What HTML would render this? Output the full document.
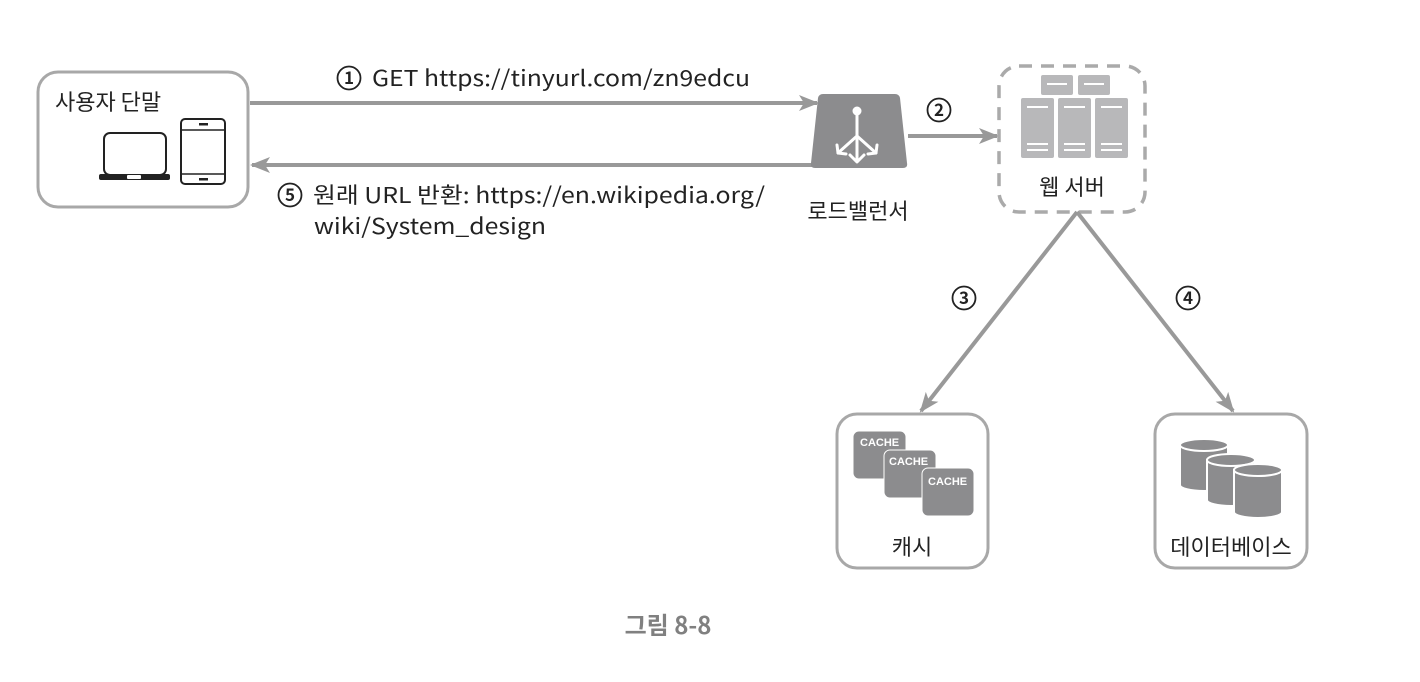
<!DOCTYPE html>
<html><head><meta charset="utf-8">
<style>
html,body{margin:0;padding:0;background:#fff;}
svg{display:block;}
text{font-family:"Noto Sans CJK KR","Liberation Sans",sans-serif;fill:#222;}
.cn circle{fill:none;stroke:#222;stroke-width:1.8;}
.cn text{font-size:17px;font-weight:bold;text-anchor:middle;}
</style></head>
<body>
<svg width="1420" height="682" viewBox="0 0 1420 682" xmlns="http://www.w3.org/2000/svg">
<defs>
<marker id="ah" viewBox="0 0 20 16" refX="18" refY="8" markerWidth="20" markerHeight="16" markerUnits="userSpaceOnUse" orient="auto">
<path d="M0,0 L20,8 L0,16 L5,8 Z" fill="#999"/>
</marker>
</defs>

<!-- User device box -->
<rect x="38" y="72" width="210" height="135" rx="20" fill="#fff" stroke="#a8a8a8" stroke-width="3"/>
<text x="55" y="110" font-size="22">사용자 단말</text>
<rect x="104" y="133" width="62" height="42" rx="6" fill="none" stroke="#222" stroke-width="2"/>
<rect x="99" y="174" width="71" height="6" rx="2" fill="#222"/>
<rect x="127" y="175" width="14" height="4" rx="1" fill="#fff"/>
<rect x="181" y="119" width="44" height="65" rx="4" fill="none" stroke="#222" stroke-width="2"/>
<line x1="181" y1="130" x2="225" y2="130" stroke="#222" stroke-width="1.5"/>
<line x1="181" y1="174" x2="225" y2="174" stroke="#222" stroke-width="1.5"/>
<rect x="199" y="123" width="9" height="2.5" fill="#222"/>
<rect x="199" y="178" width="9" height="2.5" fill="#222"/>

<!-- arrow 1 -->
<line x1="250" y1="103" x2="817" y2="103" stroke="#999" stroke-width="4" marker-end="url(#ah)"/>
<g class="cn"><circle cx="349" cy="78" r="11.5"/><text x="349" y="84">1</text></g>
<text x="372" y="86" font-size="22" textLength="378" lengthAdjust="spacingAndGlyphs">GET https://tinyurl.com/zn9edcu</text>
<!-- arrow 5 -->
<line x1="815" y1="165" x2="252" y2="165" stroke="#999" stroke-width="4" marker-end="url(#ah)"/>
<g class="cn"><circle cx="290" cy="195" r="11.5"/><text x="290" y="201">5</text></g>
<text x="313" y="203" font-size="22" textLength="452" lengthAdjust="spacingAndGlyphs">원래 URL 반환: https://en.wikipedia.org/</text>
<text x="314" y="234" font-size="22" textLength="232" lengthAdjust="spacingAndGlyphs">wiki/System_design</text>

<!-- load balancer -->
<path d="M823,94 L895,94 Q899,94 900,98 L907,163 Q908,168 903,168 L815,168 Q810,168 811,163 L818,98 Q819,94 823,94 Z" fill="#8c8c8e"/>
<circle cx="857" cy="111" r="4.5" fill="#fff"/>
<g stroke="#fff" stroke-width="3" fill="none" stroke-linecap="round" stroke-linejoin="round">
<line x1="857" y1="112" x2="857" y2="161"/>
<line x1="857" y1="136" x2="838" y2="153"/>
<line x1="857" y1="136" x2="876" y2="153"/>
<polyline points="837,145 838,153 846,154"/>
<polyline points="877,145 876,153 868,154"/>
<polyline points="850,155 857,162 864,155"/>
</g>
<text x="858" y="219" font-size="22" text-anchor="middle">로드밸런서</text>

<!-- arrow 2 -->
<line x1="908" y1="136" x2="997" y2="136" stroke="#999" stroke-width="4" marker-end="url(#ah)"/>
<g class="cn"><circle cx="939" cy="110" r="11.5"/><text x="939" y="116">2</text></g>

<!-- web server -->
<rect x="999" y="66" width="146" height="146" rx="20" fill="#fff" stroke="#aaa" stroke-width="3.5" stroke-dasharray="13,9"/>
<g fill="#b8b8ba">
<rect x="1041" y="75" width="32" height="20" rx="2"/>
<rect x="1078" y="75" width="32" height="20" rx="2"/>
<rect x="1021" y="98" width="33" height="60" rx="2"/>
<rect x="1058" y="98" width="33" height="60" rx="2"/>
<rect x="1095" y="98" width="33" height="60" rx="2"/>
</g>
<g stroke="#fff" stroke-width="2">
<line x1="1047" y1="84" x2="1067" y2="84"/><line x1="1084" y1="84" x2="1104" y2="84"/>
<line x1="1027" y1="107" x2="1048" y2="107"/><line x1="1064" y1="107" x2="1085" y2="107"/><line x1="1101" y1="107" x2="1122" y2="107"/>
<line x1="1027" y1="144" x2="1048" y2="144"/><line x1="1064" y1="144" x2="1085" y2="144"/><line x1="1101" y1="144" x2="1122" y2="144"/>
<line x1="1027" y1="150" x2="1048" y2="150"/><line x1="1064" y1="150" x2="1085" y2="150"/><line x1="1101" y1="150" x2="1122" y2="150"/>
</g>
<text x="1072" y="195" font-size="22" text-anchor="middle">웹 서버</text>

<!-- arrows 3,4 -->
<line x1="1077" y1="212" x2="921" y2="411" stroke="#999" stroke-width="4" marker-end="url(#ah)"/>
<line x1="1077" y1="212" x2="1233" y2="411" stroke="#999" stroke-width="4" marker-end="url(#ah)"/>
<g class="cn"><circle cx="964" cy="298" r="11.5"/><text x="964" y="304">3</text></g>
<g class="cn"><circle cx="1188" cy="298" r="11.5"/><text x="1188" y="304">4</text></g>

<!-- cache box -->
<rect x="837" y="414" width="151" height="154" rx="20" fill="#fff" stroke="#a8a8a8" stroke-width="3"/>
<g fill="#8c8c8e" stroke="#fff" stroke-width="1">
<rect x="853" y="431" width="53" height="48" rx="6"/>
<rect x="884" y="450" width="52" height="48" rx="6"/>
<rect x="922" y="468" width="52" height="48" rx="6"/>
</g>
<g font-size="11" font-weight="bold">
<text x="860" y="446" style="fill:#fff;font-family:'Liberation Sans',sans-serif">CACHE</text>
<text x="889" y="465" style="fill:#fff;font-family:'Liberation Sans',sans-serif">CACHE</text>
<text x="928" y="485" style="fill:#fff;font-family:'Liberation Sans',sans-serif">CACHE</text>
</g>
<text x="912" y="555" font-size="22" text-anchor="middle">캐시</text>

<!-- db box -->
<rect x="1155" y="414" width="152" height="154" rx="20" fill="#fff" stroke="#a8a8a8" stroke-width="3"/>
<g fill="#8c8c8e" stroke="#fff" stroke-width="2">
<path d="M1180,445 L1180,485 A24,6 0 0 0 1228,485 L1228,445 Z"/>
<ellipse cx="1204" cy="445" rx="24" ry="6"/>
<path d="M1207,460 L1207,500 A24,6 0 0 0 1255,500 L1255,460 Z"/>
<ellipse cx="1231" cy="460" rx="24" ry="6"/>
<path d="M1234,470 L1234,512 A24,6 0 0 0 1282,512 L1282,470 Z"/>
<ellipse cx="1258" cy="470" rx="24" ry="6"/>
</g>
<text x="1231" y="555" font-size="22" text-anchor="middle">데이터베이스</text>

<!-- caption -->
<text x="668" y="634" font-size="24" font-weight="bold" text-anchor="middle" style="fill:#808080">그림 8-8</text>
</svg>
</body></html>
